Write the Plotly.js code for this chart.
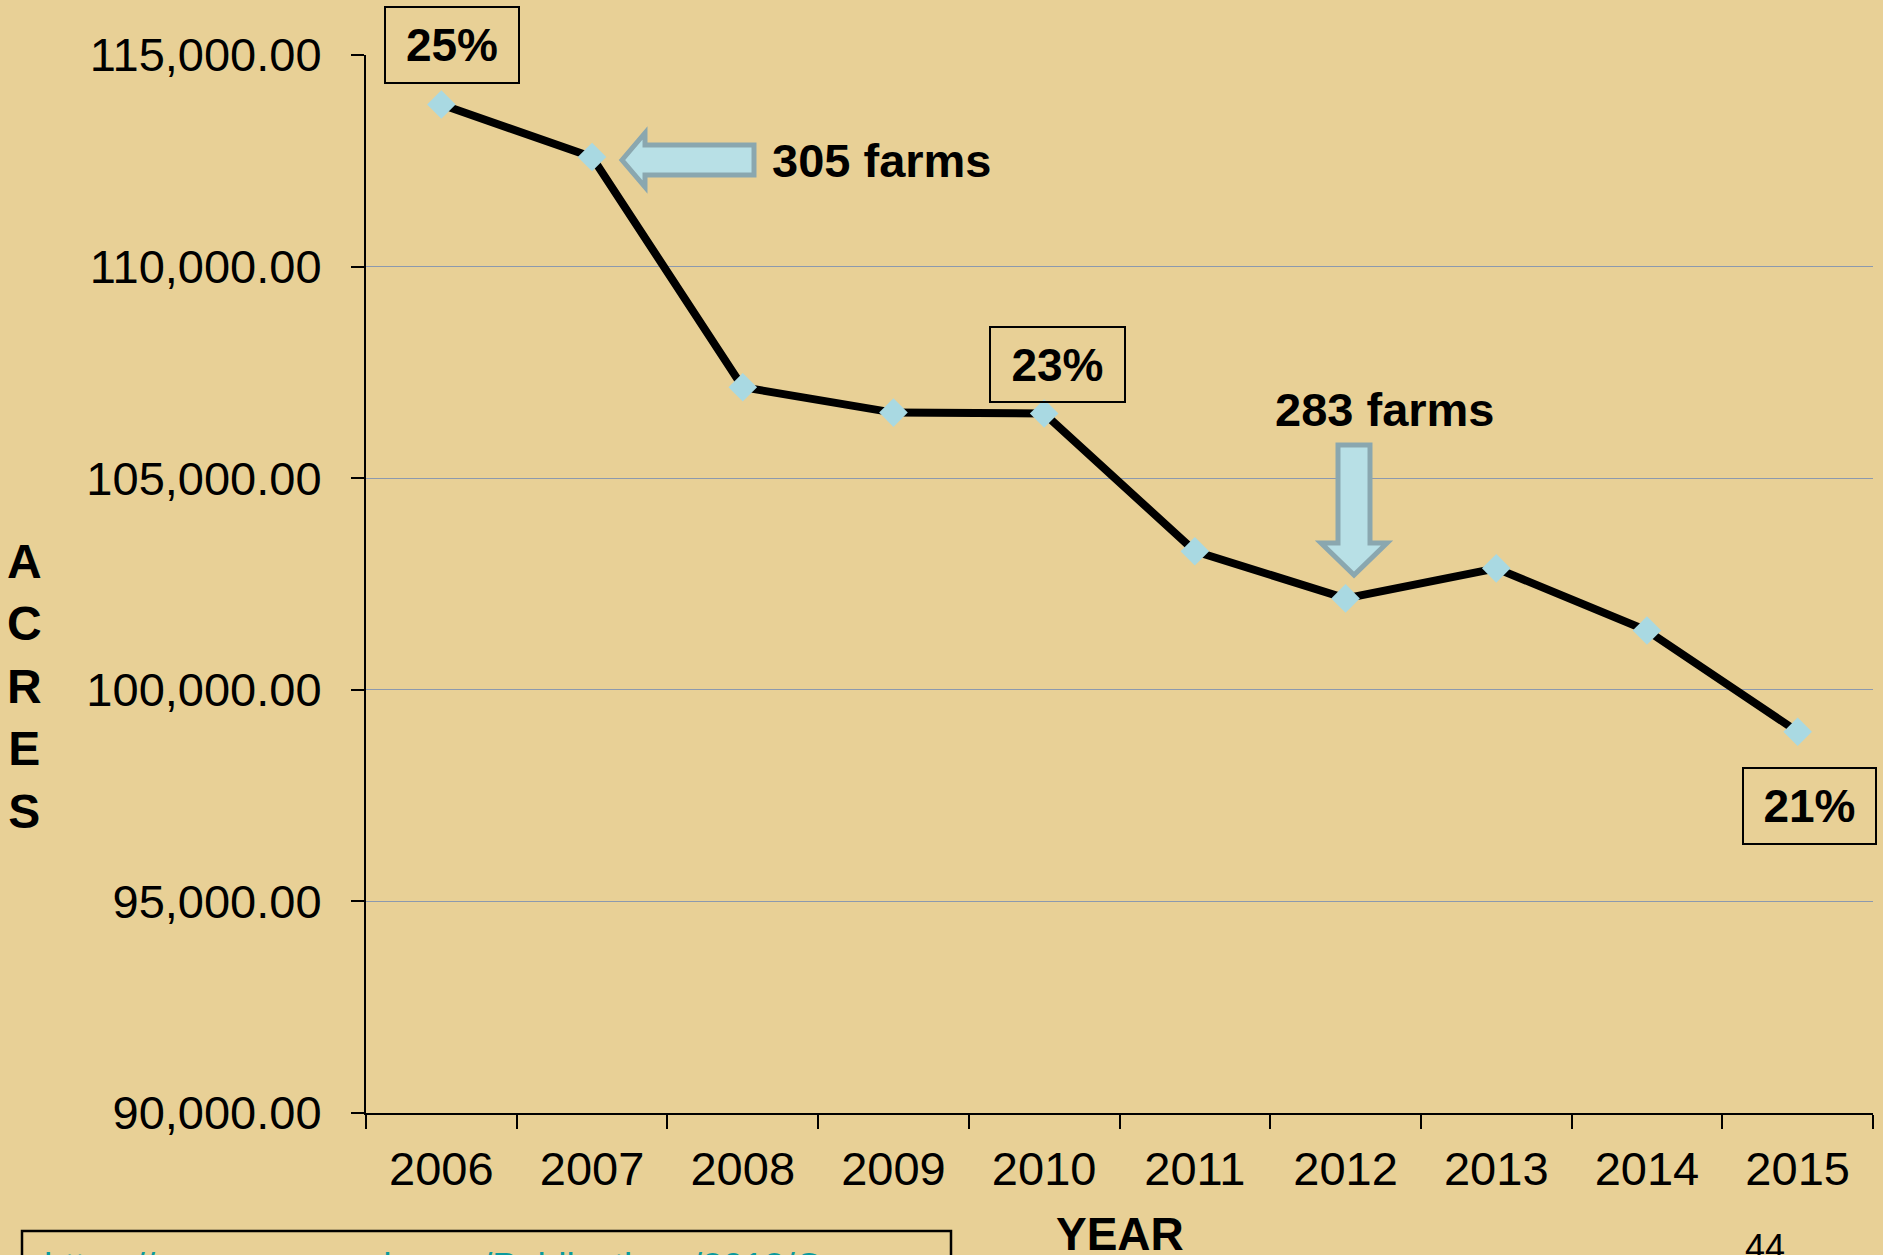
<!DOCTYPE html>
<html>
<head>
<meta charset="utf-8">
<script src="https://cdn.plot.ly/plotly-3.0.1.min.js"></script>
<style>
html, body { margin: 0; padding: 0; background: #E8D096; overflow: hidden; }
#chart { width: 1883px; height: 1255px; }
</style>
</head>
<body>
<div id="chart"></div>
<script>
// ---- data ----
var years = ['2006', '2007', '2008', '2009', '2010', '2011', '2012', '2013', '2014', '2015'];
var acres = [113830, 112590, 107150, 106550, 106530, 103275, 102160, 102870, 101400, 99010];
var yTicks = [90000, 95000, 100000, 105000, 110000, 115000];
var boxLabels = ['25%', '23%', '21%'];
var farmLabels = ['305 farms', '283 farms'];
var yTitle = 'ACRES';
var xTitle = 'YEAR';
var sourceUrl = 'https://www.nass.usda.gov/Publications/2012/C';
var pageNo = '44';

// ---- layout helpers (pixel -> paper) ----
var L = 366, R = 1873, T = 55, B = 1113;
function px(x) { return (x - L) / (R - L); }
function py(y) { return (B - y) / (B - T); }
function path(pts) {
  return 'M' + pts.map(function (p) { return px(p[0]) + ',' + py(p[1]); }).join('L') + 'Z';
}

var FONT = 'Liberation Sans, Arial, sans-serif';

var trace = {
  x: years,
  y: acres,
  type: 'scatter',
  mode: 'lines+markers',
  line: { color: '#000000', width: 8 },
  marker: { symbol: 'diamond', size: 22, color: '#A9D9E2', line: { width: 0 } },
  hoverinfo: 'x+y'
};

function boxAnn(text, cx, cy, w, h) {
  return {
    xref: 'paper', yref: 'paper', x: px(cx), y: py(cy),
    xanchor: 'center', yanchor: 'middle', showarrow: false,
    text: '<b>' + text + '</b>',
    font: { family: FONT, size: 46, color: '#000' },
    width: w, height: h, borderpad: 0,
    bordercolor: '#000', borderwidth: 2
  };
}
function textAnn(text, cx, cy, size, bold, color) {
  return {
    xref: 'paper', yref: 'paper', x: px(cx), y: py(cy),
    xanchor: 'center', yanchor: 'middle', showarrow: false,
    text: bold ? '<b>' + text + '</b>' : text,
    font: { family: FONT, size: size, color: color || '#000' }
  };
}

var annotations = [
  boxAnn(boxLabels[0], 452, 45, 132, 74),
  boxAnn(boxLabels[1], 1057, 364, 133, 73),
  boxAnn(boxLabels[2], 1809, 806, 131, 74),
  textAnn(farmLabels[0], 882, 161, 47, true),
  textAnn(farmLabels[1], 1385, 409, 47, true),
  textAnn(yTitle.split('').join('<br>'), 24, 686, 48, true),
  textAnn(xTitle, 1120, 1234, 46, true),
  textAnn(pageNo, 1765, 1247, 36, false),
  {
    xref: 'paper', yref: 'paper', x: px(42), y: py(1266),
    xanchor: 'left', yanchor: 'middle', showarrow: false,
    text: sourceUrl,
    font: { family: FONT, size: 37, color: '#0A9A9E' }
  }
];

var arrowFill = '#B8E0E6', arrowLine = '#8AA7AF';
var shapes = [
  { type: 'path', xref: 'paper', yref: 'paper',
    path: path([[622, 160], [645, 133], [645, 145], [754, 145], [754, 175], [645, 175], [645, 187]]),
    fillcolor: arrowFill, line: { color: arrowLine, width: 5 } },
  { type: 'path', xref: 'paper', yref: 'paper',
    path: path([[1338, 445], [1370, 445], [1370, 543], [1387, 543], [1354, 575], [1321, 543], [1338, 543]]),
    fillcolor: arrowFill, line: { color: arrowLine, width: 5 } },
  { type: 'rect', xref: 'paper', yref: 'paper',
    x0: px(22), x1: px(951), y0: py(1231), y1: py(1300),
    fillcolor: 'rgba(0,0,0,0)', line: { color: '#000', width: 2.5 } }
];

var layout = {
  width: 1883, height: 1255,
  margin: { l: L, r: 1883 - R, t: T, b: 1255 - B, pad: 0 },
  paper_bgcolor: '#E8D096',
  plot_bgcolor: 'rgba(0,0,0,0)',
  showlegend: false,
  xaxis: {
    type: 'category',
    range: [-0.5, years.length - 0.5],
    tickson: 'boundaries',
    ticks: 'outside', ticklen: 14, tickwidth: 2, tickcolor: '#000',
    showline: true, linecolor: '#000', linewidth: 2,
    showgrid: false, zeroline: false,
    tickfont: { family: FONT, size: 47, color: '#000' },
    ticklabelstandoff: 14,
    fixedrange: true
  },
  yaxis: {
    range: [yTicks[0], yTicks[yTicks.length - 1]],
    tickvals: yTicks,
    tickformat: ',.2f',
    ticks: 'outside', ticklen: 13, tickwidth: 2, tickcolor: '#000',
    showline: true, linecolor: '#000', linewidth: 2,
    showgrid: true, gridcolor: '#8C99AE', gridwidth: 1.2,
    zeroline: false,
    tickfont: { family: FONT, size: 47, color: '#000' },
    ticklabelstandoff: 20,
    fixedrange: true
  },
  annotations: annotations,
  shapes: shapes
};

Plotly.newPlot('chart', [trace], layout, { displayModeBar: false, staticPlot: true });
</script>
</body>
</html>
